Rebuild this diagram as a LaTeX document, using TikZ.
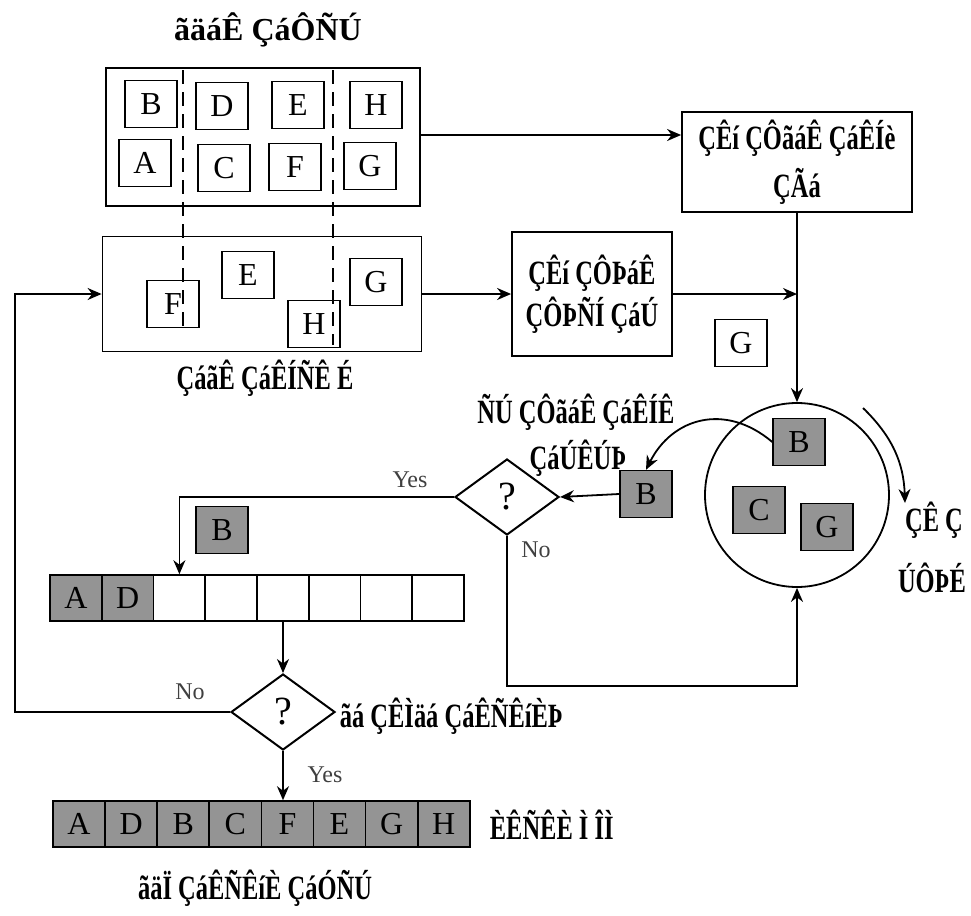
\documentclass[tikz,border=0pt]{standalone}
\usepackage{fontspec}
\setmainfont{Liberation Serif}
\newfontfamily\narrowfont[FakeStretch=0.72]{Liberation Serif}
\usetikzlibrary{arrows.meta,positioning,calc,shapes.geometric}

\tikzset{
  letbox/.style={draw, line width=0.7pt, minimum width=26pt, minimum height=23.5pt, inner sep=0pt, font=\fontsize{16}{18}\selectfont},
  graybox/.style={letbox, fill=black!42},
  cellbox/.style={draw, line width=0.8pt, minimum width=25.8pt, minimum height=23pt, inner sep=0pt, font=\fontsize{16}{18}\selectfont},
  txt/.style={font=\narrowfont\fontsize{17}{19}\selectfont\bfseries, align=center, inner sep=1pt},
  yn/.style={font=\fontsize{12}{14}\selectfont, text=black!75, inner sep=1pt},
  decide/.style={diamond, draw, line width=1pt, minimum width=52pt, minimum height=38pt, inner sep=0pt, font=\fontsize{20}{22}\selectfont}
}

\begin{document}
\begin{tikzpicture}[x=0.5pt, y=-0.5pt, >={Stealth[length=7pt,width=6pt]}, line width=0.9pt]
  \useasboundingbox (0,0) rectangle (971,916);

  \node[txt, font=\fontsize{16}{18}\selectfont\bfseries] (title) at (268,30) {ãäáÊ ÇáÔÑÚ};
  \node[draw, minimum width=157pt, minimum height=69pt] (plan) at (263,137) {};
  \node[letbox] (pB) at (151,104) {B};
  \node[letbox] (pD) at (222,106) {D};
  \node[letbox] (pE) at (298,105) {E};
  \node[letbox] (pH) at (376,105) {H};
  \node[letbox] (pA) at (145,163) {A};
  \node[letbox] (pC) at (224,168) {C};
  \node[letbox] (pF) at (295,167) {F};
  \node[letbox] (pG) at (370,166) {G};

  \node[draw, minimum width=159.5pt, minimum height=57.5pt] (stage) at (262,294) {};
  \node[letbox] (sF) at (173,304) {F};
  \node[letbox] (sE) at (248,275) {E};
  \node[letbox] (sH) at (314,324) {H};
  \node[letbox] (sG) at (376,282) {G};
  \node[txt] (stagelbl) at (265,378) {ÇáãÊ ÇáÊÍÑÊ É};

  \coordinate (cutA1) at (183,70);  \coordinate (cutA2) at (183,330);
  \coordinate (cutB1) at (333,70);  \coordinate (cutB2) at (333,345);
  \draw[line width=0.6pt, dash pattern=on 7pt off 4pt] (cutA1) -- (cutA2);
  \draw[line width=0.6pt, dash pattern=on 7pt off 4pt] (cutB1) -- (cutB2);

  \node[draw, minimum width=115pt, minimum height=50pt, txt, font=\narrowfont\fontsize{17}{24}\selectfont\bfseries] (first) at (797,162) {ÇÊí ÇÔãáÊ ÇáÊÍè\\ÇÃá};
  \node[draw, minimum width=80pt, minimum height=62pt, txt, font=\narrowfont\fontsize{17}{21}\selectfont\bfseries] (next) at (592,294) {ÇÊí ÇÔÞáÊ\\ÇÔÞÑÍ ÇáÚ};
  \node[letbox] (wG) at (741,343) {G};

  \draw[->] (plan.east |- 0,135) -- (first.west |- 0,135);
  \draw[->] (stage.east) -- (next.west);

  \node[circle, draw, minimum size=92pt, inner sep=0pt] (pool) at (797,495) {};
  \node[graybox] (qB) at (799,442) {B};
  \node[graybox] (qC) at (759,510) {C};
  \node[graybox] (qG) at (827,527) {G};
  \draw[->] (first.south) -- (pool.north);
  \draw[->] (next.east) -- (next.east -| pool.north);

  \coordinate (rotS) at (863,408);
  \coordinate (rotE) at (905,503);
  \draw[->] (rotS) to[bend left=22] (rotE);
  \node[txt] (rotlbl1) at (934,520) {ÇÊ Ç};
  \node[txt] (rotlbl2) at (932,578) {ÚÔÞÉ};

  \node[graybox] (outB) at (646,494) {B};
  \draw[->] (qB.west) .. controls (725,402) and (672,418) .. (outB.north);
  \node[txt] (takelbl1) at (576,412) {ÑÚ ÇÔãáÊ ÇáÊÍÊ};
  \node[txt] (takelbl2) at (578,458) {ÇáÚÊÚÞ};

  \node[decide] (chk) at (507,497) {?};
  \draw[->] (outB.west) -- (chk.east);

  \node[graybox] (insB) at (222,530) {B};
  \foreach \i/\t in {1/A,2/D,3/,4/,5/,6/,7/,8/} {
    \ifnum\i<3
      \node[cellbox, fill=black!42] (a\i) at ({76+51.7*(\i-1)},598) {\t};
    \else
      \node[cellbox] (a\i) at ({76+51.7*(\i-1)},598) {\t};
    \fi
  }
  \draw[->] (chk.west) -| (a3.north);
  \node[yn] (yes1) at (410,480) {Yes};
  \draw[->] (chk.south) -- ++(0,150) -| (pool.south);
  \node[yn] (no1) at (536,550) {No};

  \node[decide] (done) at (283,712) {?};
  \draw[->] (a5.south -| done.north) -- (done.north);
  \draw[->] (done.west) -- ++(-215,0) |- (stage.west);
  \node[yn] (no2) at (190,692) {No};
  \node[txt, anchor=west] (donelbl) at (337,716) {ãá ÇÊÌäá ÇáÊÑÊíÈÞ};

  \foreach \i/\t in {1/A,2/D,3/B,4/C,5/F,6/E,7/G,8/H}
    \node[cellbox, fill=black!42, minimum width=26pt] (b\i) at ({79+52.1*(\i-1)},824) {\t};
  \draw[->] (done.south) -- (done.south |- b5.north);
  \node[yn] (yes2) at (325,775) {Yes};
  \node[txt, anchor=west] (sortlbl) at (487,825) {ÈÊÑÊÈ Ì ÎÌ};
  \node[txt] (bottomlbl) at (255,888) {ãäÏ ÇáÊÑÊíÈ ÇáÓÑÚ};
\end{tikzpicture}
\end{document}
